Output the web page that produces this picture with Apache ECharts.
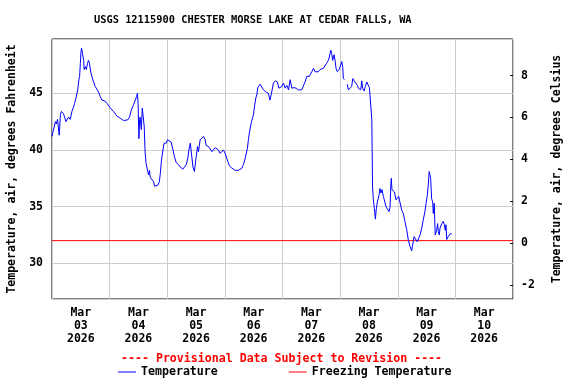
<!DOCTYPE html>
<html>
<head>
<meta charset="utf-8">
<script src="https://cdn.jsdelivr.net/npm/echarts@6/dist/echarts.min.js"></script>
<style>html,body{margin:0;padding:0;background:#fff}#c{width:576px;height:384px}</style>
</head>
<body>
<div id="c"></div>
<script>
// Hours since 2026-03-03 00:00 (local)
const hours = [0,0.4,1.0,1.4,1.8,2.3,3.0,3.5,3.9,4.3,4.8,5.8,6.9,7.6,8.3,9.0,9.4,10.1,10.7,11.2,11.5,11.8,12.1,12.3,12.7,13.2,13.4,13.9,14.3,14.8,15.2,15.6,16.2,16.8,17.3,18.0,18.7,19.4,20.1,20.8,22.2,22.9,24.3,25.6,27.0,28.4,29.8,30.5,31.5,32.3,33.0,34.0,34.7,35.2,35.6,35.9,36.2,36.5,36.7,37.2,37.6,38.0,38.4,38.8,39.2,39.8,40.2,40.6,40.9,41.6,42.3,42.7,43.4,44.1,44.7,45.1,45.6,46.2,46.7,47.6,48.1,48.9,49.6,50.4,51.0,51.7,52.7,53.4,54.5,55.1,55.9,56.6,57.0,57.6,58.3,58.7,59.3,60.0,60.6,61.0,61.7,62.1,63.1,63.8,64.2,65.2,65.9,66.6,67.2,68.0,68.7,69.3,70.0,70.7,71.4,72.1,72.8,73.2,73.9,74.9,75.6,76.3,77.0,77.65,78.4,79.1,79.7,80.4,80.9,81.4,81.8,82.2,82.8,83.2,83.9,84.3,84.9,85.3,85.7,86.1,86.7,87.4,88.1,89.2,90.1,90.8,91.6,92.2,93.05,93.9,94.5,95.0,95.7,96.4,97.1,97.8,98.5,99.2,99.9,100.8,101.7,102.6,103.3,104.0,104.7,105.4,106.1,106.8,107.2,108.2,108.9,109.6,110.3,110.9,111.65,112.4,113.0,113.7,114.4,115.1,115.5,116.1,116.5,116.9,117.5,117.9,118.3,118.85,119.6,120.0,120.7,121.1,121.35,121.8,122.4,123.0,123.4,124.1,124.8,125.3,125.8,126.5,127.2,127.6,128.0,128.6,129.0,129.4,130.0,130.5,131.1,131.6,132.2,132.75,133.0,133.2,133.4,133.5,133.8,134.25,134.7,135.0,135.5,136.2,136.6,137.0,137.45,138.0,138.4,139.1,139.8,140.4,140.8,141.1,141.3,141.6,142.2,142.6,143.3,143.8,144.4,144.9,145.65,146.3,147.0,147.7,148.4,149.1,149.8,150.2,150.8,151.6,152.1,152.6,153.3,154.0,154.6,155.3,155.8,156.3,156.7,157.1,157.4,157.7,158.1,158.55,158.8,159.2,159.6,160.2,160.6,160.9,161.3,161.6,162.3,162.95,163.4,163.8,164.1,164.4,165.0,165.8,166.5];
const tempF = [41.2,41.6,42.1,42.5,42.3,42.7,41.3,43.1,43.4,43.5,43.2,42.5,42.9,42.7,43.4,43.8,44.1,44.7,45.3,46.2,46.5,47.65,48.7,49.0,48.5,47.9,47.1,47.35,47.1,47.65,47.9,47.65,46.8,46.8,46.0,45.6,45.35,45.1,44.7,44.4,44.3,44.1,43.7,43.4,43.0,42.8,42.6,42.5,42.65,42.9,43.5,44.0,44.4,44.7,45.0,43.8,41.0,42.65,42.9,41.8,43.7,43.8,42.1,39.7,38.8,38.2,37.8,38.2,37.6,37.6,37.2,36.8,36.8,36.9,37.2,37.9,39.1,40.0,40.6,40.6,40.9,40.9,40.7,40.0,39.4,38.9,38.7,38.5,38.3,38.3,38.7,39.3,40.0,40.6,40.7,38.5,38.1,39.3,40.3,39.85,40.9,41.0,41.2,40.9,40.4,40.3,40.15,39.85,40.0,40.2,40.1,40.0,39.7,39.8,40.0,39.7,39.85,39.0,38.6,38.4,38.3,38.2,38.1,38.2,38.2,38.4,38.7,39.2,39.7,40.15,40.9,41.5,42.2,42.6,43.1,43.8,44.6,44.85,45.5,45.65,45.8,45.7,45.3,45.1,45.0,44.4,45.2,45.9,46.1,46.0,45.45,45.3,45.6,45.9,45.45,45.7,45.3,46.2,45.45,45.5,45.45,45.3,45.15,45.3,45.45,46.0,46.5,46.6,46.5,46.9,47.2,46.9,46.8,46.9,47.1,47.1,47.2,47.35,47.65,47.9,48.2,48.8,48.5,47.9,48.4,47.9,47.2,46.9,47.1,47.35,47.8,47.3,46.3,46.2,null,45.8,45.3,45.2,45.6,46.3,46.1,45.9,45.7,45.45,45.6,45.3,46.1,45.45,45.2,45.6,46.0,45.9,45.5,45.65,45.45,42.65,42.5,36.8,35.7,34.85,33.9,34.7,35.4,36.0,36.6,36.2,36.5,35.9,35.6,35.0,34.85,34.55,35.0,36.8,37.5,36.5,36.6,36.3,35.6,35.7,35.9,35.4,34.7,34.4,33.7,33.0,32.05,31.5,31.1,31.6,32.35,32.2,31.9,32.05,32.5,33.1,33.8,34.55,35.3,36.0,36.9,38.1,38.2,37.5,35.7,35.4,34.4,35.3,32.5,32.9,33.5,32.8,32.5,33.1,33.5,33.7,33.4,32.9,33.4,32.1,32.35,32.6,32.6];
const freezingF = 32;
const dayLabels = ['Mar\n03\n2026','Mar\n04\n2026','Mar\n05\n2026','Mar\n06\n2026','Mar\n07\n2026','Mar\n08\n2026','Mar\n09\n2026','Mar\n10\n2026'];
const titleText = 'USGS 12115900 CHESTER MORSE LAKE AT CEDAR FALLS, WA';
const provisionalText = '---- Provisional Data Subject to Revision ----';

const FONT = '"DejaVu Sans Mono", "Liberation Mono", monospace';
const tempData = hours.map((h, i) => [h, tempF[i]]);
const chart = echarts.init(document.getElementById('c'), null, {renderer: 'canvas'});
chart.setOption({
  animation: false,
  backgroundColor: '#fff',
  title: [
    {text: titleText, left: 94, top: 15, padding: 0, textStyle: {fontFamily: FONT, fontWeight: 'bold', fontSize: 10.35, color: '#000'}},
    {text: provisionalText, left: 121, top: 353, padding: 0, textStyle: {fontFamily: FONT, fontWeight: 'bold', fontSize: 11.6, color: '#ff0000'}}
  ],
  legend: {
    left: 118, top: 366, padding: 0, icon: 'rect', itemWidth: 18, itemHeight: 1, itemGap: 71,
    textStyle: {fontFamily: FONT, fontWeight: 'bold', fontSize: 11.6, color: '#000'},
    data: ['Temperature', 'Freezing Temperature']
  },
  grid: {left: 52, right: 63, top: 39, height: 260, outerBoundsMode: 'none', containLabel: false,
         show: true, borderColor: '#000', borderWidth: 1, backgroundColor: 'transparent'},
  xAxis: [
    {type: 'value', min: 0, max: 192, interval: 24, position: 'bottom',
     axisLine: {show: false}, axisTick: {show: false}, axisLabel: {show: false},
     splitLine: {show: true, lineStyle: {color: '#cccccc', width: 1}}},
    {type: 'category', data: dayLabels, boundaryGap: true, position: 'bottom',
     axisLine: {show: false}, axisTick: {show: false}, splitLine: {show: false},
     axisLabel: {margin: 8, fontFamily: FONT, fontWeight: 'bold', fontSize: 11.5, lineHeight: 13, color: '#000', interval: 0}}
  ],
  yAxis: [
    {type: 'value', min: 26.85, max: 49.79, position: 'left',
     name: 'Temperature, air, degrees Fahrenheit', nameLocation: 'middle', nameGap: 33, nameRotate: 90,
     nameTextStyle: {fontFamily: FONT, fontWeight: 'bold', fontSize: 11.5, color: '#000'},
     axisLine: {show: false}, axisTick: {show: false},
     axisLabel: {margin: 9, fontFamily: FONT, fontWeight: 'bold', fontSize: 11.5, color: '#000', showMinLabel: false, showMaxLabel: false},
     splitLine: {show: true, lineStyle: {color: '#cccccc', width: 1}}},
    {type: 'value', min: -2.67, max: 9.75, position: 'right',
     name: 'Temperature, air, degrees Celsius', nameLocation: 'middle', nameGap: 38, nameRotate: 90,
     nameTextStyle: {fontFamily: FONT, fontWeight: 'bold', fontSize: 11.5, color: '#000'},
     axisLine: {show: false}, axisTick: {show: true, inside: true, length: 3, lineStyle: {color: '#000'}},
     axisLabel: {margin: 8, fontFamily: FONT, fontWeight: 'bold', fontSize: 11.5, color: '#000', showMinLabel: false, showMaxLabel: false},
     splitLine: {show: false}}
  ],
  series: [
    {name: 'Freezing Temperature', type: 'line', xAxisIndex: 0, yAxisIndex: 0, data: [[0, freezingF], [192, freezingF]],
     symbol: 'none', lineStyle: {color: '#ff0000', width: 1}, itemStyle: {color: '#ff0000'}, silent: true, z: 2},
    {name: 'Temperature', type: 'line', xAxisIndex: 0, yAxisIndex: 0, data: tempData, connectNulls: false,
     symbol: 'none', lineStyle: {color: '#0000ff', width: 1}, itemStyle: {color: '#0000ff'}, z: 3}
  ]
});
</script>
</body>
</html>
